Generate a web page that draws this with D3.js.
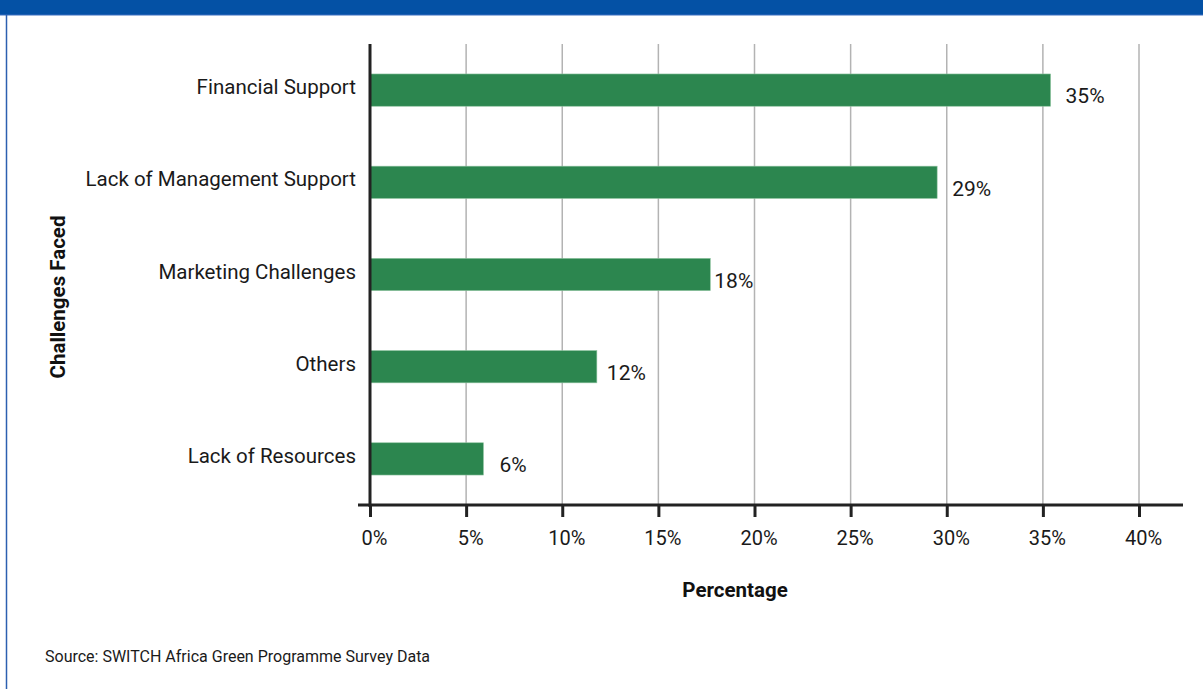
<!DOCTYPE html>
<html>
<head>
<meta charset="utf-8">
<script src="https://cdn.jsdelivr.net/npm/d3@7"></script>
<style>
  body { margin: 0; background: #fff; }
  svg { display: block; font-family: Roboto, 'Open Sans', sans-serif; }
</style>
</head>
<body>
<svg id="chart"></svg>
<script>
// data
let categories = ['Financial Support', 'Lack of Management Support', 'Marketing Challenges', 'Others', 'Lack of Resources'];
let values = [35.4, 29.5, 17.7, 11.8, 5.9];
let valueLabels = ['35%', '29%', '18%', '12%', '6%'];
let tickValues = [0, 5, 10, 15, 20, 25, 30, 35, 40];

let width = 1203;
let height = 689;
// small per-label nudges seen in the original
let labelNudge = [15, 15, 4, 10, 16];

let svg = d3.select('#chart').attr('width', width).attr('height', height);

// header band and frame
svg.append('rect')
  .attr('x', 0).attr('y', 0)
  .attr('width', width).attr('height', 15)
  .attr('fill', '#0451a5');

svg.append('line')
  .attr('x1', 0).attr('x2', width)
  .attr('y1', 15).attr('y2', 15)
  .attr('stroke', '#3a6fc0')
  .attr('stroke-width', 1);

svg.append('line')
  .attr('x1', 6.5).attr('x2', 6.5)
  .attr('y1', 15).attr('y2', height)
  .attr('stroke', '#2c5fb0')
  .attr('stroke-width', 1.5);

let x = d3.scaleLinear()
  .domain([0, 40])
  .range([370, 1139]);

let y = d3.scaleBand()
  .domain(categories)
  .range([44, 505])
  .paddingInner(0.65)
  .paddingOuter(0.325);

// gridlines
svg.append('g')
  .selectAll('line')
  .data(tickValues.slice(1))
  .enter().append('line')
  .attr('x1', d => x(d)).attr('x2', d => x(d))
  .attr('y1', 44).attr('y2', 505)
  .attr('stroke', '#b3b3b3')
  .attr('stroke-width', 1.5);

// bars
svg.append('g')
  .selectAll('rect')
  .data(values)
  .enter().append('rect')
  .attr('x', x(0))
  .attr('y', (d, i) => y(categories[i]))
  .attr('width', d => x(d) - x(0))
  .attr('height', y.bandwidth())
  .attr('fill', '#2c864f')
  .attr('stroke', '#8fc4a0')
  .attr('stroke-width', 0.6);

// value labels
svg.append('g')
  .selectAll('text')
  .data(values)
  .enter().append('text')
  .attr('x', (d, i) => x(d) + labelNudge[i])
  .attr('y', (d, i) => y(categories[i]) + y.bandwidth() / 2 + 6)
  .attr('dy', '0.35em')
  .attr('font-size', '21px')
  .attr('fill', '#1a1a1a')
  .text((d, i) => valueLabels[i]);

// x axis
let xAxis = d3.axisBottom(x)
  .tickValues(tickValues)
  .tickFormat(d => d + '%')
  .tickSize(12)
  .tickPadding(14);

let gx = svg.append('g')
  .attr('transform', 'translate(0,505)')
  .call(xAxis);
gx.select('.domain').remove();
gx.selectAll('.tick line').attr('stroke', '#222').attr('stroke-width', 3);
gx.selectAll('.tick text')
  .attr('font-size', '20px')
  .attr('font-family', 'Roboto, sans-serif')
  .attr('fill', '#1a1a1a')
  .attr('dx', 4);

svg.append('line')
  .attr('x1', 358).attr('x2', 1183)
  .attr('y1', 505).attr('y2', 505)
  .attr('stroke', '#222')
  .attr('stroke-width', 3);

// y axis
let yAxis = d3.axisLeft(y)
  .tickSize(0)
  .tickPadding(14);

let gy = svg.append('g')
  .attr('transform', 'translate(370,0)')
  .call(yAxis);
gy.select('.domain').remove();
gy.selectAll('.tick text')
  .attr('font-size', '20.5px')
  .attr('font-family', 'Roboto, sans-serif')
  .attr('fill', '#1a1a1a')
  .attr('dy', '0.2em');

svg.append('line')
  .attr('x1', 370).attr('x2', 370)
  .attr('y1', 44).attr('y2', 507)
  .attr('stroke', '#222')
  .attr('stroke-width', 3);

// axis titles
svg.append('text')
  .attr('x', 735).attr('y', 597)
  .attr('text-anchor', 'middle')
  .attr('font-size', '20.5px')
  .attr('font-weight', 'bold')
  .attr('fill', '#111')
  .text('Percentage');

svg.append('text')
  .attr('transform', 'translate(65,297) rotate(-90)')
  .attr('text-anchor', 'middle')
  .attr('font-size', '20.5px')
  .attr('font-weight', 'bold')
  .attr('fill', '#111')
  .text('Challenges Faced');

// source
svg.append('text')
  .attr('x', 45).attr('y', 662)
  .attr('font-size', '16px')
  .attr('fill', '#1a1a1a')
  .text('Source: SWITCH Africa Green Programme Survey Data');
</script>
</body>
</html>
